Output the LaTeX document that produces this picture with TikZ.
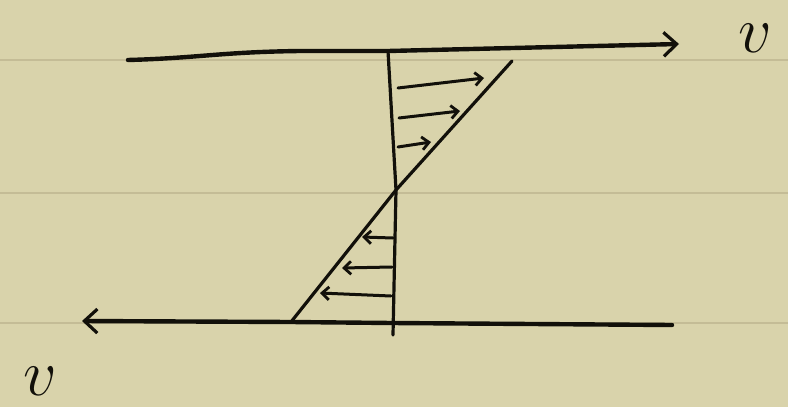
\RequirePackage{fix-cm}
\documentclass[tikz,border=0pt]{standalone}
\usetikzlibrary{arrows.meta}
\definecolor{paper}{RGB}{217,211,171}
\definecolor{rule}{RGB}{196,188,150}
\definecolor{ink}{RGB}{18,16,10}
\begin{document}
\begin{tikzpicture}[x=1pt,y=-1pt,
  ink/.style={draw=ink,line cap=round,line join=round},
  wall/.style={ink,line width=4.4pt},
  guide/.style={ink,line width=3.2pt},
  bigtip/.style={-{Straight Barb[length=13pt,width=24pt,line width=3.2pt]}},
  vel/.style={ink,line width=3pt,-{Straight Barb[length=7pt,width=13pt,line width=2.8pt]}},
  lbl/.style={text=ink,inner sep=0pt,font=\fontsize{66}{66}\selectfont}]
\fill[paper] (0,0) rectangle (788,407);
\useasboundingbox (0,0) rectangle (788,407);
% notebook rules
\foreach \yy in {60,193,323} \draw[rule,line width=2pt] (0,\yy) -- (788,\yy);
% coordinates
\coordinate (tl) at (128,60);
\coordinate (tr) at (679,44);
\coordinate (bl) at (82,321);
\coordinate (br) at (672,325);
\coordinate (vt) at (388,51);
\coordinate (vm) at (396,190);
\coordinate (vb) at (393,335);
\coordinate (dt) at (512,61);
\coordinate (db) at (291,322);
% plates
\draw[wall,bigtip] (tl) .. controls (200,58) and (220,52) .. (300,51) -- (vt) -- (tr);
\draw[wall,bigtip] (br) -- (392,323) -- (db) -- (bl);
% axis and profile
\draw[guide] (vt) -- (vm) -- (vb);
\draw[guide] (dt) -- (vm) -- (db);
% velocity arrows top
\coordinate (a1s) at (398,88); \coordinate (a1e) at (484,78);
\coordinate (a2s) at (399,118); \coordinate (a2e) at (460,111);
\coordinate (a3s) at (398,147); \coordinate (a3e) at (431,142);
\draw[vel] (a1s) -- (a1e);
\draw[vel] (a2s) -- (a2e);
\draw[vel] (a3s) -- (a3e);
% velocity arrows bottom
\coordinate (b1s) at (393,238); \coordinate (b1e) at (362,237);
\coordinate (b2s) at (392,267); \coordinate (b2e) at (342,268);
\coordinate (b3s) at (391,296); \coordinate (b3e) at (320,293);
\draw[vel] (b1s) -- (b1e);
\draw[vel] (b2s) -- (b2e);
\draw[vel] (b3s) -- (b3e);
% labels
\node[lbl] (vtop) at (755,38) {$v$};
\node[lbl] (vbot) at (40,381) {$v$};
\end{tikzpicture}
\end{document}
